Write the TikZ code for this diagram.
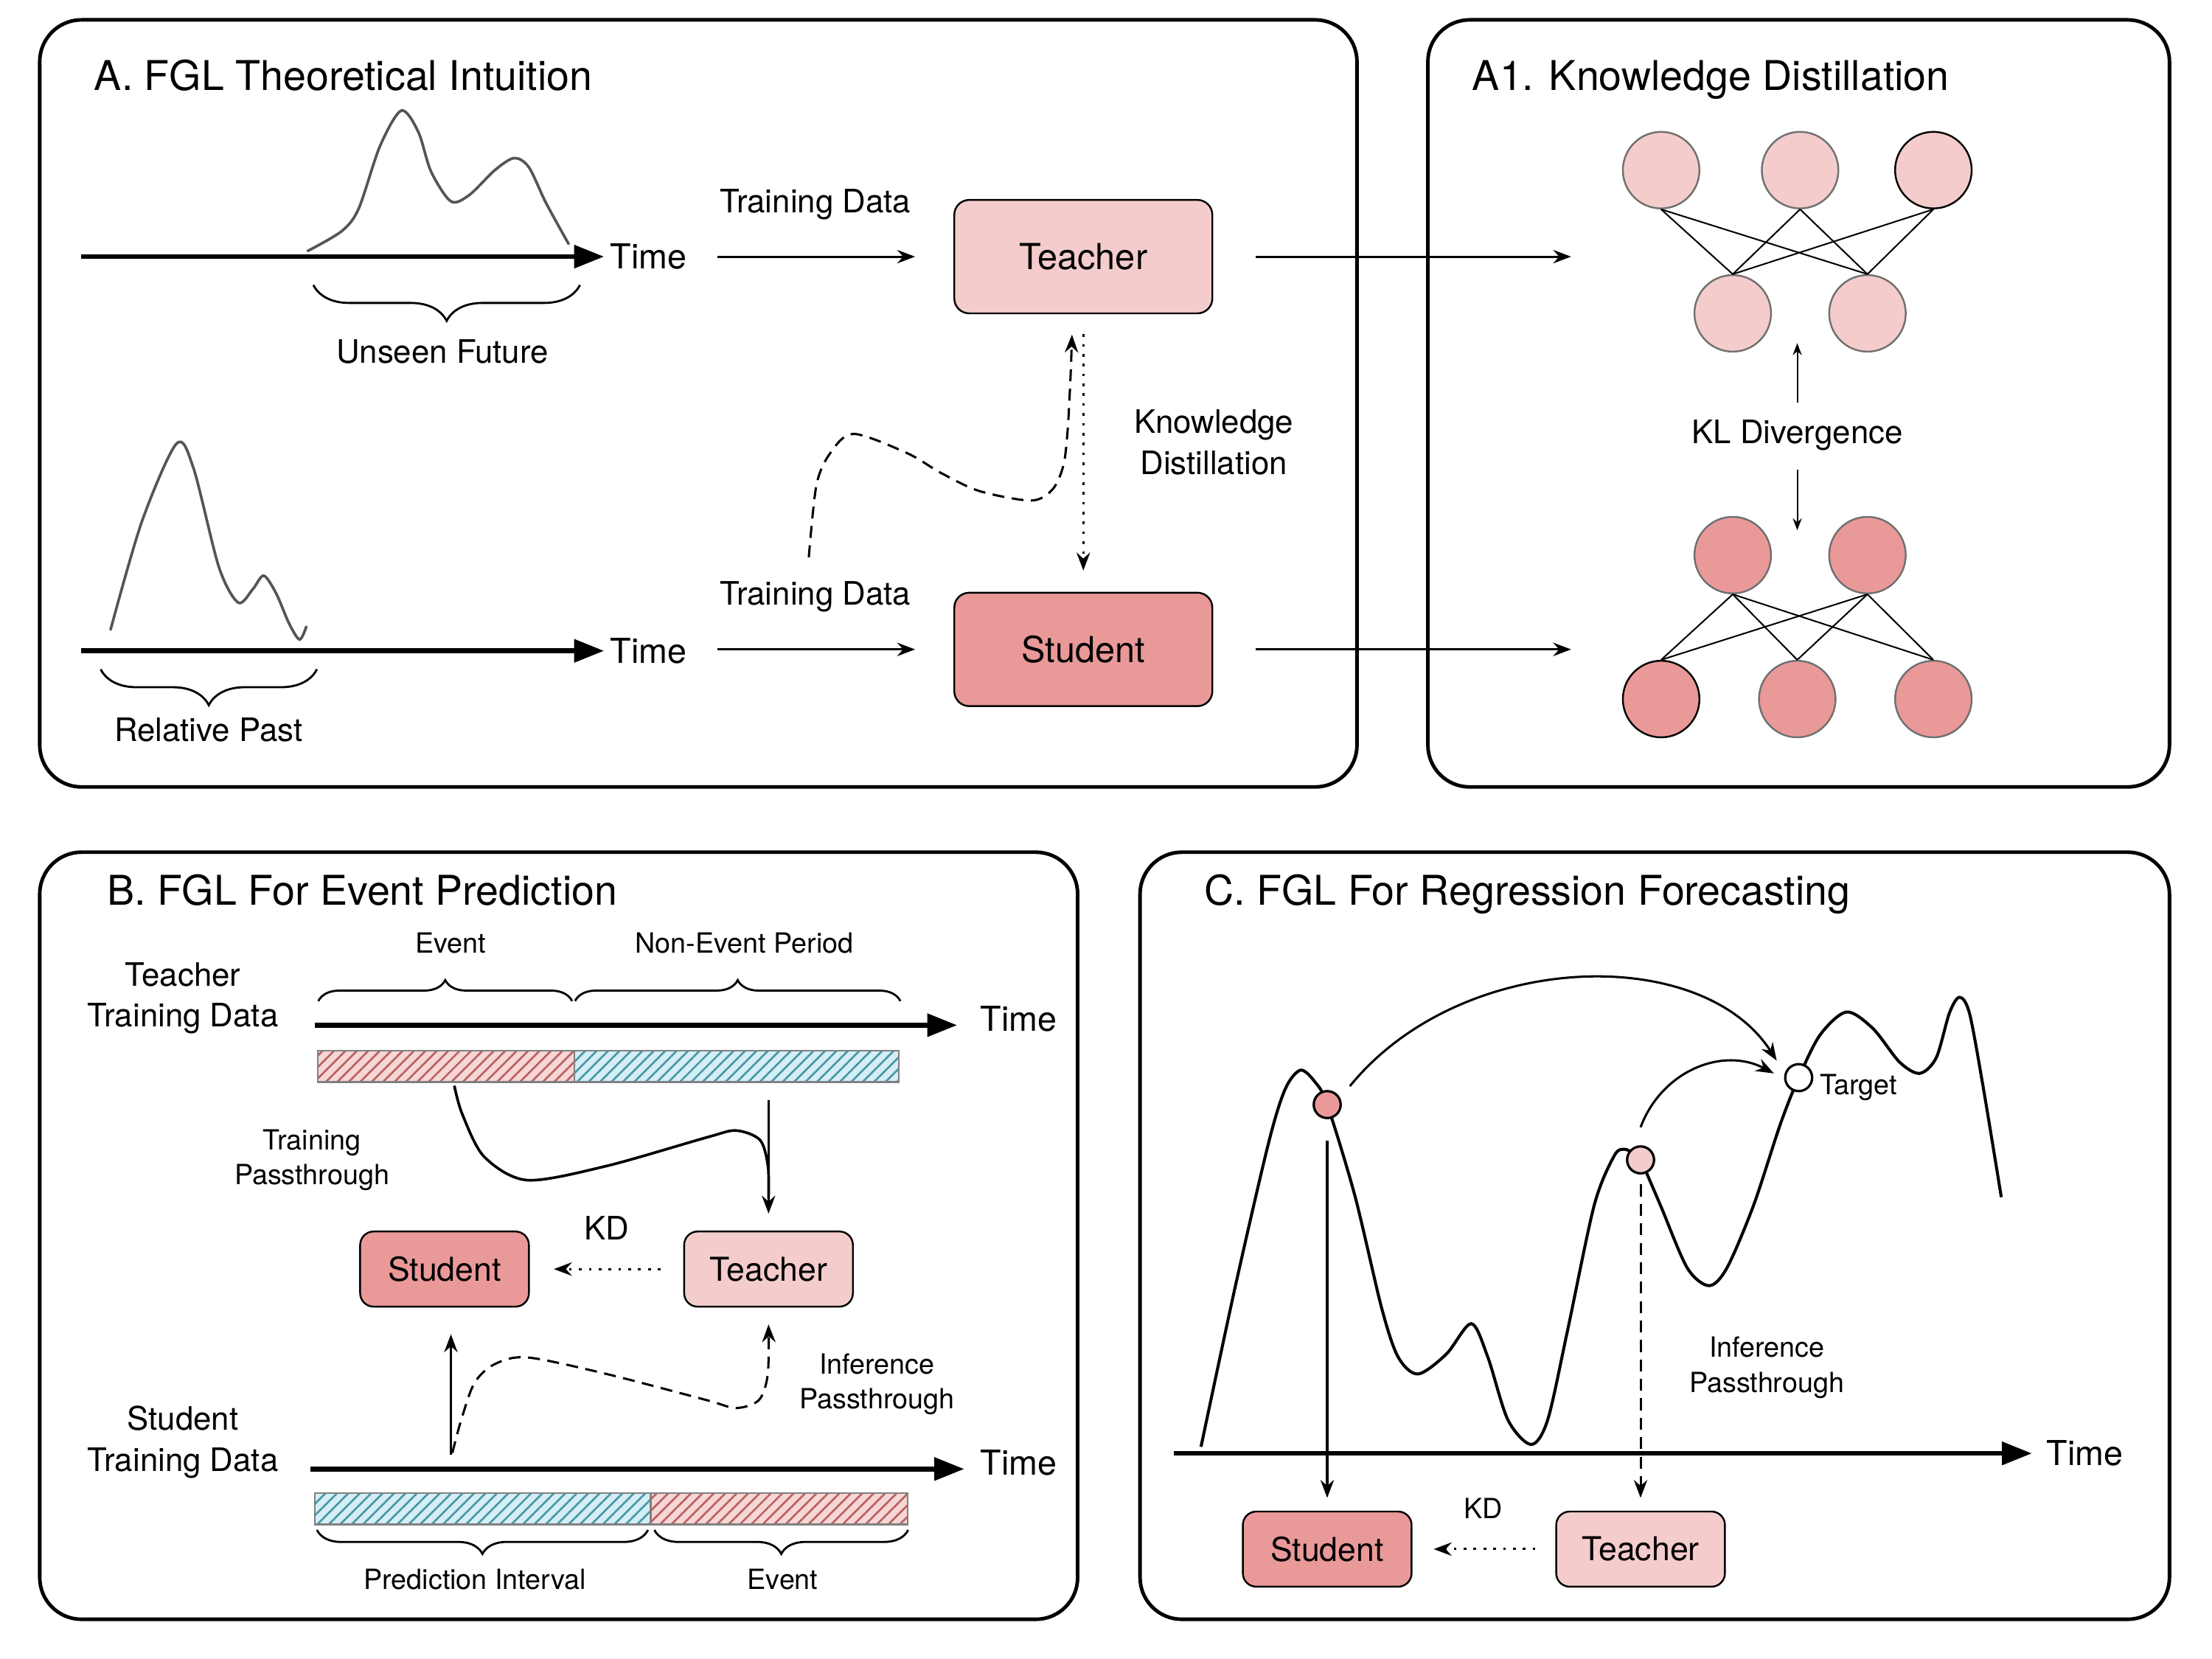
\documentclass[tikz,border=0pt]{standalone}
\usepackage{fontspec}
\setmainfont{TeX Gyre Heros}
\usetikzlibrary{positioning,calc,arrows.meta,decorations.pathreplacing,patterns.meta}

\newlength{\pxunit}
\setlength{\pxunit}{0.0166667cm}

\definecolor{tpink}{HTML}{F4CCCC}
\definecolor{spink}{HTML}{EA9999}
\definecolor{barpink}{HTML}{F7D6D6}
\definecolor{barblue}{HTML}{D5EEF5}
\definecolor{hatchred}{HTML}{B86262}
\definecolor{hatchblue}{HTML}{4897A8}
\definecolor{wavegray}{HTML}{555555}
\definecolor{ringgray}{HTML}{707070}

\tikzset{
  panel/.style={draw, line width=1.2pt, rounded corners=14pt},
  title/.style={font=\fontsize{13.7}{16}\selectfont, inner sep=0pt, anchor=base west},
  lbl/.style={font=\fontsize{10.8}{13.7}\selectfont, align=center, inner sep=0pt},
  smalllbl/.style={font=\fontsize{9.3}{11.6}\selectfont, align=center, inner sep=0pt},
  timelbl/.style={font=\fontsize{11.5}{14}\selectfont, inner sep=0pt},
  bigbox/.style={draw, line width=0.6pt, rounded corners=5pt, minimum width=182\pxunit, minimum height=80\pxunit, font=\fontsize{12}{14}\selectfont},
  smallbox/.style={draw, line width=0.6pt, rounded corners=4.5pt, minimum width=119\pxunit, minimum height=53\pxunit, font=\fontsize{11}{13}\selectfont},
  neuron/.style={circle, draw=ringgray, line width=0.6pt, minimum size=54\pxunit, inner sep=0pt},
  dot/.style={circle, draw, line width=0.8pt, minimum size=19\pxunit, inner sep=0pt},
  link/.style={line width=0.5pt},
  timeaxis/.style={line width=1.6pt, -{Triangle[length=10pt,width=7.5pt]}},
  arr/.style={line width=0.75pt, -{Stealth[length=6pt,width=4.5pt,inset=2pt]}},
  dasharr/.style={arr, dash pattern=on 4pt off 2.5pt},
  dotarr/.style={arr, dash pattern=on 0.9pt off 2.4pt},
  klarr/.style={line width=0.5pt, -{Stealth[length=4pt,width=3pt,inset=1.3pt]}},
  wave/.style={line width=0.9pt, wavegray, line cap=round},
  curly/.style={decorate, decoration={brace, amplitude=#1}, line width=0.7pt},
  hatchR/.style={draw=gray, line width=0.6pt, preaction={fill=barpink}, pattern={Lines[angle=45,distance=2.7pt,line width=0.65pt]}, pattern color=hatchred},
  hatchB/.style={draw=gray, line width=0.6pt, preaction={fill=barblue}, pattern={Lines[angle=45,distance=2.7pt,line width=0.65pt]}, pattern color=hatchblue}
}

\begin{document}
\begin{tikzpicture}[x=0.0166667cm, y=-0.0166667cm]
  \useasboundingbox (0,0) rectangle (1560,1170);

  \draw[panel] (28,14) rectangle (957,555);
  \draw[panel] (1007,14) rectangle (1530,555);
  \draw[panel] (28,601) rectangle (760,1142);
  \draw[panel] (804,601) rectangle (1530,1142);

  \node[title] (tA) at (66,63.5) {A. FGL Theoretical Intuition};
  \node[title] (tA1) at (1038,63.5) {A1. Knowledge Distillation};
  \node[title] (tB) at (75,638.5) {B. FGL For Event Prediction};
  \node[title] (tC) at (849,638.5) {C. FGL For Regression Forecasting};

  % A
  \coordinate (axTs) at (57,181);
  \coordinate (axTe) at (426,181);
  \draw[timeaxis] (axTs) -- (axTe);
  \node[timelbl, right=4\pxunit of axTe] (timeT) {Time};
  \draw[wave] plot[smooth] coordinates {(217,177) (241,163) (253,147) (268,103) (283,78) (295,93) (304,121) (318,142) (331,137.5) (349,120) (362.6,111.5) (373,118) (385,143) (401,172)};
  \coordinate (bU1) at (409,201);
  \coordinate (bU2) at (221,201);
  \draw[curly=12pt] (bU1) -- (bU2);
  \node[lbl] (unseen) at (312,248) {Unseen Future};

  \coordinate (axSs) at (57,459);
  \coordinate (axSe) at (426,459);
  \draw[timeaxis] (axSs) -- (axSe);
  \node[timelbl, right=4\pxunit of axSe] (timeS) {Time};
  \draw[wave] plot[smooth] coordinates {(78,444) (100,368) (124.4,313) (136.4,330) (154.4,400) (168,425) (178.3,415.5) (186,406) (194.8,418.6) (204,440) (211.3,451) (216,442)};
  \coordinate (bP1) at (223.5,472);
  \coordinate (bP2) at (71,472);
  \draw[curly=12pt] (bP1) -- (bP2);
  \node[lbl] (past) at (147,514.5) {Relative Past};

  \node[bigbox, fill=tpink] (teachA) at (764,181) {Teacher};
  \node[bigbox, fill=spink] (studA) at (764,458) {Student};

  \coordinate (tdT) at (506,181);
  \coordinate (tdS) at (506,458);
  \draw[arr] (tdT) -- ($(teachA.west)+(-27,0)$);
  \draw[arr] (tdS) -- ($(studA.west)+(-27,0)$);
  \node[lbl] (tdlT) at (575,144) {Training Data};
  \node[lbl] (tdlS) at (575,421) {Training Data};

  \draw[dotarr] ($(teachA.south)+(0,14)$) -- ($(studA.north)+(0,-15)$);
  \node[lbl] (kdA) at (856,312) {Knowledge\\Distillation};
  \draw[dasharr] plot[smooth] coordinates {(570.4,393) (575.8,342) (585.5,319.6) (602,306) (639.8,319.6) (663.9,333.7) (691,346.4) (727.3,353) (742.4,345) (750,328) (753,302.7) (755.1,263.2) (756,236)};

  \coordinate (inT) at (1108,181);
  \coordinate (inS) at (1108,458);
  \draw[arr] ($(teachA.east)+(30,0)$) -- (inT);
  \draw[arr] ($(studA.east)+(30,0)$) -- (inS);

  % A1
  \node[neuron, fill=tpink] (ta1) at (1171.5,120) {};
  \node[neuron, fill=tpink] (ta2) at (1269.5,120) {};
  \node[neuron, fill=tpink, draw=black] (ta3) at (1363.5,120) {};
  \node[neuron, fill=tpink] (tb1) at (1222,221) {};
  \node[neuron, fill=tpink] (tb2) at (1317,221) {};
  \node[neuron, fill=spink] (sa1) at (1222,391.5) {};
  \node[neuron, fill=spink] (sa2) at (1317,391.5) {};
  \node[neuron, fill=spink, draw=black] (sb1) at (1171.5,493) {};
  \node[neuron, fill=spink] (sb2) at (1267.5,493) {};
  \node[neuron, fill=spink] (sb3) at (1363.5,493) {};
  \foreach \i in {1,2,3} {
    \foreach \j in {1,2} {
      \draw[link] (ta\i.south) -- (tb\j.north);
      \draw[link] (sa\j.south) -- (sb\i.north);
    }
  }
  \node[lbl] (kl) at (1267.5,307) {KL Divergence};
  \coordinate (klu) at (1267.5,242);
  \coordinate (kld) at (1267.5,374);
  \draw[klarr] ($(kl.north)+(0,-12)$) -- (klu);
  \draw[klarr] ($(kl.south)+(0,13)$) -- (kld);

  % B
  \node[lbl] (tdB) at (129,704) {Teacher\\Training Data};
  \coordinate (bE1) at (224.5,706);
  \coordinate (bE2) at (403.5,706);
  \coordinate (bN1) at (405.5,706);
  \coordinate (bN2) at (635,706);
  \draw[curly=7pt] (bE1) -- (bE2);
  \draw[curly=7pt] (bN1) -- (bN2);
  \node[smalllbl] (evT) at (318,665) {Event};
  \node[smalllbl] (nev) at (525,665) {Non-Event Period};
  \coordinate (axBTs) at (222,723);
  \coordinate (axBTe) at (675,723);
  \draw[timeaxis] (axBTs) -- (axBTe);
  \node[timelbl, right=16\pxunit of axBTe, yshift=2pt] (timeBT) {Time};
  \draw[hatchR] (224,741) rectangle (405,763);
  \draw[hatchB] (405,741) rectangle (634,763);

  \node[smallbox, fill=spink] (studB) at (313.5,895) {Student};
  \node[smallbox, fill=tpink] (teachB) at (542,895) {Teacher};

  \draw[line width=0.9pt] plot[smooth] coordinates {(320.4,765.7) (326,785.7) (341.4,815.7) (371.8,832.3) (427.8,822.3) (497.9,802.3) (519,797.3) (536,804) (541.6,822.3) (542,845)};
  \coordinate (vT) at (542,776);
  \draw[arr] (vT) -- ($(teachB.north)+(0,-12)$);
  \node[smalllbl] (tpB) at (220,818) {Training\\Passthrough};

  \draw[dotarr] ($(teachB.west)+(-16,0)$) -- ($(studB.east)+(17,0)$);
  \node[lbl] (kdB) at (428,866) {KD};

  \coordinate (upS) at (318,1026);
  \coordinate (upE) at (318,941);
  \draw[arr] (upS) -- (upE);
  \draw[dasharr] plot[smooth] coordinates {(319,1024.7) (325,1002.3) (334.4,975.7) (348.4,962.3) (371.8,957.3) (427.8,969) (497.9,987.3) (519,993) (535.3,987.3) (541.5,969) (542,934)};
  \node[smalllbl] (ipB) at (618.5,976) {Inference\\Passthrough};

  \node[lbl] (sdB) at (129,1017) {Student\\Training Data};
  \coordinate (axBSs) at (219,1036);
  \coordinate (axBSe) at (680,1036);
  \draw[timeaxis] (axBSs) -- (axBSe);
  \node[timelbl, right=11\pxunit of axBSe, yshift=2pt] (timeBS) {Time};
  \draw[hatchB] (222,1053) rectangle (459,1075);
  \draw[hatchR] (459,1053) rectangle (640,1075);
  \coordinate (bI1) at (457,1079);
  \coordinate (bI2) at (223.5,1079);
  \coordinate (bV1) at (640.5,1079);
  \coordinate (bV2) at (461.5,1079);
  \draw[curly=8pt] (bI1) -- (bI2);
  \draw[curly=8pt] (bV1) -- (bV2);
  \node[smalllbl] (pint) at (335,1114) {Prediction Interval};
  \node[smalllbl] (evS) at (552,1114) {Event};

  % C
  \coordinate (axCs) at (828,1025);
  \coordinate (axCe) at (1433,1025);
  \draw[timeaxis] (axCs) -- (axCe);
  \node[timelbl, right=10\pxunit of axCe] (timeC) {Time};
  \draw[line width=1pt] plot[smooth, tension=0.5] coordinates {(847,1020.3) (871.3,906.7) (894.7,805.8) (906.4,768) (917.2,754.7) (927.5,763.2) (936,779) (955.6,843.6) (974.4,922.5) (986,957) (1000,969) (1020,955) (1037.6,933.5) (1049.3,957.2) (1063.4,1001.3) (1079.8,1018.7) (1091.5,1001.3) (1105.5,938.3) (1124.3,850) (1138.3,815.3) (1145.3,810.5) (1152.3,813.6) (1157,818) (1171,850) (1189.8,894) (1205.3,906.7) (1218,894) (1236.7,850) (1255.5,793) (1268.5,760) (1283.5,730) (1302.2,713.7) (1320.9,725.4) (1339.6,749) (1353.8,757) (1365.5,746) (1374.8,714.4) (1381.9,703.3) (1388.9,714.4) (1398.3,764.8) (1411.4,844.3)};

  \node[dot, fill=spink] (dS) at (936,779) {};
  \node[dot, fill=tpink] (dT) at (1157,818) {};
  \node[dot, fill=white] (tgt) at (1268.5,760) {};
  \node[smalllbl, anchor=west] (tgtl) at (1283,767) {Target};

  \coordinate (arcS) at (952,766);
  \coordinate (arcE) at (1253,748);
  \draw[arr] (arcS) .. controls (1030,670) and (1200,665) .. (arcE);
  \coordinate (arc2S) at (1157,795);
  \coordinate (arc2E) at (1251,757);
  \draw[arr] (arc2S) .. controls (1172,755) and (1215,738) .. (arc2E);

  \node[smallbox, fill=spink] (studC) at (936,1092.5) {Student};
  \node[smallbox, fill=tpink] (teachC) at (1157,1092.5) {Teacher};
  \draw[arr] ($(dS.south)+(0,15)$) -- ($(studC.north)+(0,-9)$);
  \draw[dasharr] ($(dT.south)+(0,7)$) -- ($(teachC.north)+(0,-9)$);
  \draw[dotarr] ($(teachC.west)+(-14,0)$) -- ($(studC.east)+(15,0)$);
  \node[smalllbl] (kdC) at (1046,1064) {KD};
  \node[smalllbl] (ipC) at (1246,964.5) {Inference\\Passthrough};
\end{tikzpicture}
\end{document}
